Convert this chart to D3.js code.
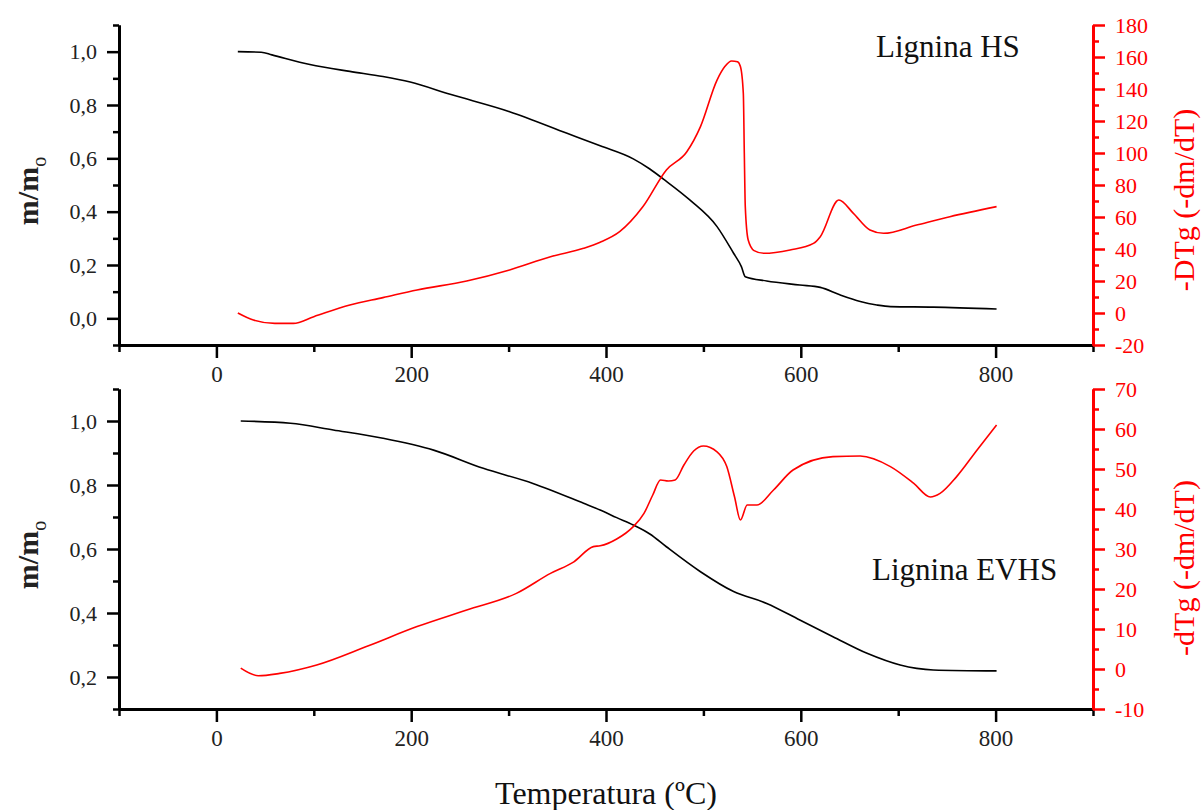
<!DOCTYPE html>
<html>
<head>
<meta charset="utf-8">
<script src="https://cdn.jsdelivr.net/npm/d3@7"></script>
<style>
  body { margin: 0; background: #fff; }
  svg, svg text { font-family: "Liberation Serif", "Times New Roman", serif; }
  .axis text { font-family: "Liberation Serif", "Times New Roman", serif; font-size: 22px; }
  .axis .domain { stroke-width: 3; }
  .axis line { stroke-width: 2.5; }
  .curve { fill: none; stroke-width: 1.6; }
</style>
</head>
<body>
<svg id="chart" width="1202" height="810"></svg>
<script>
// Lignina HS — TG (m/mo)
const tempHsTg = [22, 46, 57, 96, 137, 171, 199, 240, 301, 360, 394, 428, 445, 459, 486, 514, 531, 539, 543, 565, 599, 620, 640, 661, 678, 692, 736, 801];
const massHs   = [1.0, 0.998, 0.988, 0.952, 0.926, 0.907, 0.886, 0.840, 0.775, 0.694, 0.647, 0.598, 0.560, 0.522, 0.444, 0.344, 0.244, 0.194, 0.156, 0.14, 0.125, 0.116, 0.088, 0.063, 0.05, 0.044, 0.042, 0.035];
// Lignina HS — DTG
const tempHsDtg = [22, 38, 60, 79, 100, 137, 171, 206, 257, 301, 343, 377, 394, 414, 438, 462, 483, 497, 514, 522, 529, 535, 538, 541, 542, 543, 546, 552, 562, 589, 613, 620, 639, 654, 671, 685, 719, 753, 801];
const dtgHs     = [0, -4.4, -6.5, -6.5, -2.3, 5, 9.6, 14.4, 20, 26.9, 35.2, 40.4, 44.2, 50.8, 66.5, 89.4, 100.8, 116.5, 145.6, 154, 157.5, 157, 154, 137, 100, 66.5, 45.6, 39, 37.3, 39.4, 43.5, 47.7, 70.6, 62.3, 51.9, 49.8, 55, 60.2, 66.5];

// Lignina EVHS — TG (m/mo)
const tempEvTg = [25, 76, 120, 171, 223, 274, 325, 377, 394, 411, 428, 445, 462, 497, 531, 565, 599, 633, 668, 702, 719, 736, 801];
const massEv   = [1.0, 0.993, 0.972, 0.946, 0.909, 0.852, 0.805, 0.743, 0.722, 0.698, 0.675, 0.647, 0.607, 0.529, 0.467, 0.43, 0.378, 0.326, 0.274, 0.2375, 0.227, 0.222, 0.219];
// Lignina EVHS — DTG
const tempEvDtg = [25, 43, 65, 103, 154, 206, 257, 308, 343, 367, 387, 394, 411, 428, 439, 448, 456, 464, 471, 480, 490, 500, 514, 524, 532, 538, 545, 555, 572, 592, 633, 661, 692, 716, 733, 743, 760, 781, 801];
const dtgEv     = [0.2, -1.7, -1.1, 1, 5.6, 10.6, 14.75, 18.9, 23.9, 26.8, 30.6, 30.8, 32.5, 35.6, 38.9, 43.5, 47.25, 47, 47.25, 51, 54.5, 55.75, 54.3, 50.6, 43, 37.25, 41, 41, 44.75, 49.75, 53.1, 53.25, 50.6, 46.4, 43, 43.9, 48.1, 54.75, 61];

// tick values
const xMajor = [0, 200, 400, 600, 800];
const xMinor = [-100, 100, 300, 500, 700, 900];
const tgTopMajor = [0, 0.2, 0.4, 0.6, 0.8, 1.0];
const tgTopMinor = [-0.1, 0.1, 0.3, 0.5, 0.7, 0.9, 1.1];
const tgBotMajor = [0.2, 0.4, 0.6, 0.8, 1.0];
const tgBotMinor = [0.1, 0.3, 0.5, 0.7, 0.9, 1.1];
const dtgTopMajor = [-20, 0, 20, 40, 60, 80, 100, 120, 140, 160, 180];
const dtgTopMinor = [-10, 10, 30, 50, 70, 90, 110, 130, 150, 170];
const dtgBotMajor = [-10, 0, 10, 20, 30, 40, 50, 60, 70];
const dtgBotMinor = [-5, 5, 15, 25, 35, 45, 55, 65];

const left = 119, right = 1093;
const svg = d3.select("#chart");

const x = d3.scaleLinear().domain([-100, 900]).range([left, right]);
const comma = d => d3.format(".1f")(d).replace(".", ",");
const plain = d => String(d); // hyphen minus, like the original

function panel(cfg) {
  const yL = d3.scaleLinear().domain(cfg.tgDomain).range([cfg.bottom, cfg.top]);
  const yR = d3.scaleLinear().domain(cfg.dtgDomain).range([cfg.bottom, cfg.top]);
  const g = svg.append("g");

  // x axis
  g.append("g").attr("class", "axis")
    .attr("transform", `translate(0,${cfg.bottom})`)
    .call(d3.axisBottom(x).tickValues(xMinor).tickSize(7).tickSizeOuter(0).tickFormat(""));
  g.append("g").attr("class", "axis")
    .attr("transform", `translate(0,${cfg.bottom})`)
    .call(d3.axisBottom(x).tickValues(xMajor).tickSize(13).tickSizeOuter(0).tickPadding(8).tickFormat(plain))
    .call(a => a.selectAll("text").style("font-size", "23px").attr("fill", "#222"));

  // left axis
  g.append("g").attr("class", "axis")
    .attr("transform", `translate(${left},0)`)
    .call(d3.axisLeft(yL).tickValues(cfg.tgMinor).tickSize(6).tickSizeOuter(0).tickFormat(""));
  g.append("g").attr("class", "axis")
    .attr("transform", `translate(${left},0)`)
    .call(d3.axisLeft(yL).tickValues(cfg.tgMajor).tickSize(12).tickSizeOuter(0).tickPadding(10).tickFormat(comma))
    .call(a => a.selectAll("text").attr("fill", "#222"));

  // right axis (red)
  g.append("g").attr("class", "axis")
    .attr("transform", `translate(${right},0)`)
    .call(d3.axisRight(yR).tickValues(cfg.dtgMinor).tickSize(6).tickSizeOuter(0).tickFormat(""))
    .call(a => a.selectAll("line,path").attr("stroke", "#ff0000"));
  g.append("g").attr("class", "axis")
    .attr("transform", `translate(${right},0)`)
    .call(d3.axisRight(yR).tickValues(cfg.dtgMajor).tickSize(12).tickSizeOuter(0).tickPadding(10).tickFormat(plain))
    .call(a => a.selectAll("line,path").attr("stroke", "#ff0000"))
    .call(a => a.selectAll("text").attr("fill", "#ff0000"));

  // curves
  const lineTg = d3.line().x(d => x(d[0])).y(d => yL(d[1])).curve(d3.curveMonotoneX);
  const lineDtg = d3.line().x(d => x(d[0])).y(d => yR(d[1])).curve(d3.curveMonotoneX);
  g.append("path").attr("class", "curve").attr("stroke", "#000")
    .attr("d", lineTg(d3.zip(cfg.tgT, cfg.tgV)));
  g.append("path").attr("class", "curve").attr("stroke", "#ff0000")
    .attr("d", lineDtg(d3.zip(cfg.dtgT, cfg.dtgV)));

  // y titles
  const mid = (cfg.top + cfg.bottom) / 2;
  const tl = g.append("text")
    .attr("transform", `translate(38,${mid + 6}) rotate(-90)`)
    .attr("text-anchor", "middle").attr("font-size", 30).attr("font-weight", "bold").attr("fill", "#222");
  tl.append("tspan").text("m/m");
  tl.append("tspan").attr("dy", 8).attr("font-size", 20).attr("font-weight", "normal").text("o");

  g.append("text")
    .attr("transform", `translate(1194,${mid + cfg.rOff}) rotate(-90)`)
    .attr("text-anchor", "middle").attr("font-size", 30).attr("fill", "#ff0000")
    .text(cfg.rTitle);

  g.append("text").attr("x", cfg.nameX).attr("y", cfg.nameY)
    .attr("font-size", 31).attr("fill", "#111").text(cfg.name);
}

panel({
  top: 25, bottom: 345,
  tgDomain: [-0.1, 1.1], dtgDomain: [-20, 180],
  tgMajor: tgTopMajor, tgMinor: tgTopMinor,
  dtgMajor: dtgTopMajor, dtgMinor: dtgTopMinor,
  tgT: tempHsTg, tgV: massHs, dtgT: tempHsDtg, dtgV: dtgHs,
  rTitle: "-DTg (-dm/dT)", rOff: 15,
  name: "Lignina HS", nameX: 876, nameY: 57
});

panel({
  top: 389, bottom: 709,
  tgDomain: [0.1, 1.1], dtgDomain: [-10, 70],
  tgMajor: tgBotMajor, tgMinor: tgBotMinor,
  dtgMajor: dtgBotMajor, dtgMinor: dtgBotMinor,
  tgT: tempEvTg, tgV: massEv, dtgT: tempEvDtg, dtgV: dtgEv,
  rTitle: "-dTg (-dm/dT)", rOff: 19,
  name: "Lignina EVHS", nameX: 872, nameY: 580
});

svg.append("text").attr("x", 606).attr("y", 804)
  .attr("text-anchor", "middle").attr("font-size", 32).attr("fill", "#111")
  .text("Temperatura (ºC)");
</script>
</body>
</html>
